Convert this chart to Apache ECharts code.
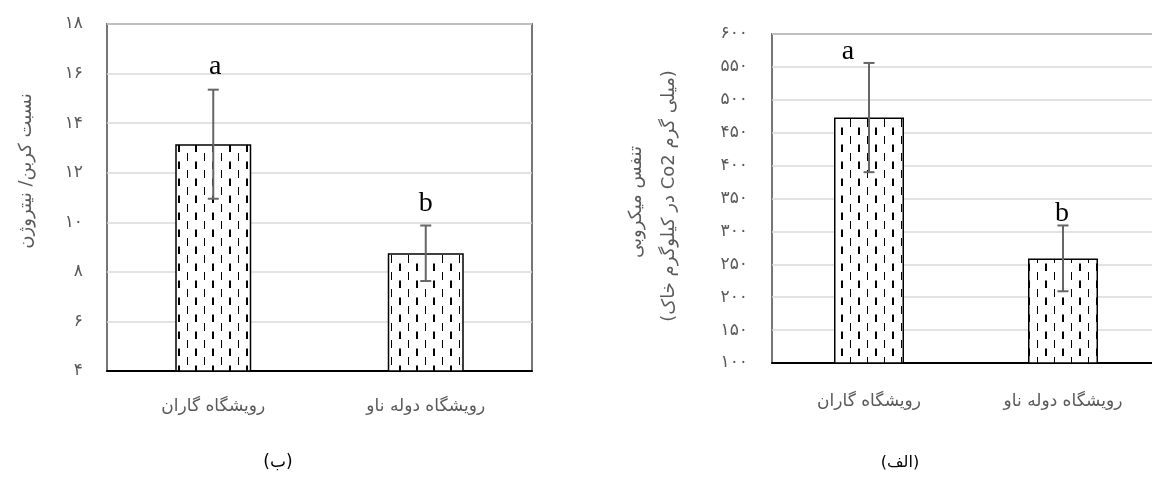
<!DOCTYPE html>
<html>
<head>
<meta charset="utf-8">
<script src="https://cdn.jsdelivr.net/npm/echarts@6/dist/echarts.min.js"></script>
<style>
  html, body { margin:0; padding:0; background:#fff; overflow:hidden; }
  #chart { width:1170px; height:477px; }
</style>
</head>
<body>
<div id="chart"></div>
<script>
// sites (same order in both panels)
const categories = ['رویشگاه گاران', 'رویشگاه دوله ناو'];
const letters = ['a', 'b'];

// panel (ب): C/N ratio
const cnRatio = [13.15, 8.75];
const cnError = [2.2, 1.12];

// panel (الف): microbial respiration
const respiration = [473, 259];
const respError = [83, 50];

const GRAY = '#595959';
const FA_FONT = '"DejaVu Sans", sans-serif';

function toFa(v){
  return String(v).replace(/\d/g, d => '۰۱۲۳۴۵۶۷۸۹'[d]);
}
function rtl(s){ return '\u202B' + s + '\u202C'; }

// dashed vertical hatch used by all bars
function makeHatch(){
  const c = document.createElement('canvas');
  c.width = 17; c.height = 17;
  const g = c.getContext('2d');
  g.fillStyle = '#fff';
  g.fillRect(0, 0, 17, 17);
  g.fillStyle = '#000';
  g.fillRect(0, 0, 1, 8);     // thin dash
  g.fillRect(8, 8.5, 2, 7.5); // thick dash, offset half a period
  return c;
}
const hatch = makeHatch();

function errRender(dx, dy){
  return function(params, api){
    const i = api.value(0);
    const lo = api.coord([i, api.value(1)]);
    const hi = api.coord([i, api.value(2)]);
    const w = 5.5;
    const st = { stroke:'#666', lineWidth:2 };
    return {
      type:'group',
      children:[
        {type:'line', shape:{x1:hi[0], y1:hi[1], x2:lo[0], y2:lo[1]}, style:st},
        {type:'line', shape:{x1:hi[0]-w, y1:hi[1], x2:hi[0]+w, y2:hi[1]}, style:st},
        {type:'line', shape:{x1:lo[0]-w, y1:lo[1], x2:lo[0]+w, y2:lo[1]}, style:st},
        {type:'text', x:hi[0] + dx[i], y:hi[1] + dy[i],
          style:{text:letters[i], font:'28px "Liberation Serif", serif', fill:'#000', align:'center', verticalAlign:'bottom'}}
      ]
    };
  };
}

function errData(vals, errs){
  return vals.map((v, i) => [i, v - errs[i], v + errs[i]]);
}

function yAxisCfg(idx, min, max, step){
  return {
    type:'value', gridIndex:idx, min:min, max:max, interval:step,
    axisLine:{show:false}, axisTick:{show:false},
    axisLabel:{color:GRAY, fontSize:17, fontFamily:FA_FONT, margin:24, formatter:v => toFa(v)},
    splitLine:{lineStyle:{color:'#d9d9d9', width:1.5}}
  };
}
function xAxisCfg(idx, margin){
  return {
    type:'category', gridIndex:idx, data:categories,
    axisLine:{lineStyle:{color:'#000', width:2}},
    axisTick:{show:false},
    axisLabel:{color:GRAY, fontSize:17, fontFamily:FA_FONT, margin:margin}
  };
}

const chart = echarts.init(document.getElementById('chart'), null, {renderer:'canvas'});
chart.setOption({
  animation:false,
  backgroundColor:'#fff',
  grid:[
    {left:107, top:24, width:425, height:347, show:true, borderColor:'#767676', borderWidth:2, backgroundColor:'#fff'},
    {left:772, top:34, width:388, height:329, show:true, borderColor:'#767676', borderWidth:2, backgroundColor:'#fff'}
  ],
  xAxis:[ xAxisCfg(0, 27), xAxisCfg(1, 30) ],
  yAxis:[ yAxisCfg(0, 4, 18, 2), yAxisCfg(1, 100, 600, 50) ],
  series:[
    {type:'bar', xAxisIndex:0, yAxisIndex:0, data:cnRatio, barWidth:76,
      itemStyle:{color:{image:hatch, repeat:'repeat'}, borderColor:'#000', borderWidth:1.5}},
    {type:'custom', xAxisIndex:0, yAxisIndex:0, data:errData(cnRatio, cnError),
      renderItem:errRender([2, 0], [-9, -8]), z:5},
    {type:'bar', xAxisIndex:1, yAxisIndex:1, data:respiration, barWidth:70,
      itemStyle:{color:{image:hatch, repeat:'repeat'}, borderColor:'#000', borderWidth:1.5}},
    {type:'custom', xAxisIndex:1, yAxisIndex:1, data:errData(respiration, respError),
      renderItem:errRender([-21, -1], [3, 2]), z:5}
  ],
  graphic:[
    {type:'text', x:26, y:171, rotation:Math.PI/2,
      style:{text:rtl('نسبت کربن/ نیتروژن'), font:'18px ' + FA_FONT, fill:GRAY, align:'center', verticalAlign:'middle'}},
    {type:'text', x:636, y:202, rotation:Math.PI/2,
      style:{text:'تنفس میکروبی', font:'18px ' + FA_FONT, fill:GRAY, align:'center', verticalAlign:'middle'}},
    {type:'text', x:669, y:196, rotation:Math.PI/2,
      style:{text:rtl('(میلی گرم Co2 در کیلوگرم خاک)'), font:'18px ' + FA_FONT, fill:GRAY, align:'center', verticalAlign:'middle'}},
    {type:'text', x:278, y:463,
      style:{text:rtl('(ب)'), font:'17px ' + FA_FONT, fill:'#000', align:'center', verticalAlign:'middle'}},
    {type:'text', x:900, y:463,
      style:{text:rtl('(الف)'), font:'16px ' + FA_FONT, fill:'#000', align:'center', verticalAlign:'middle'}}
  ]
});
</script>
</body>
</html>
